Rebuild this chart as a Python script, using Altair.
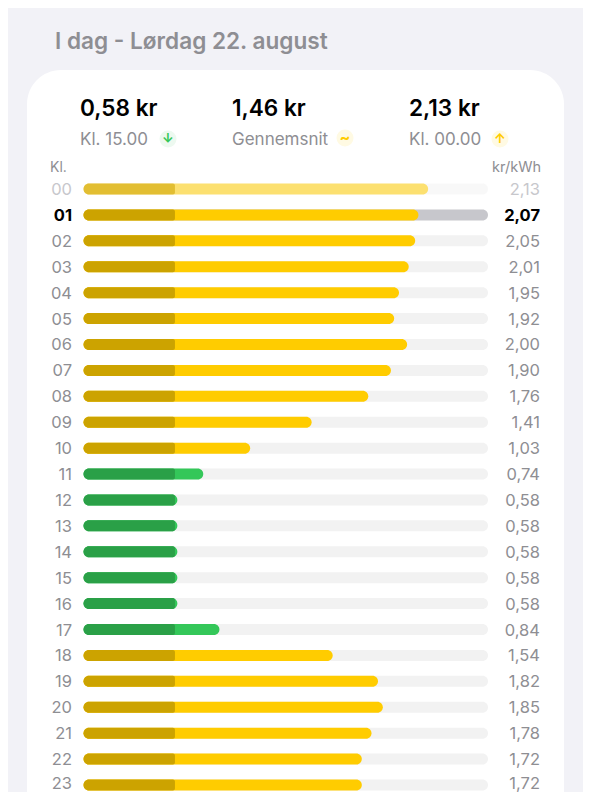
import altair as alt
import pandas as pd

hours = ["00","01","02","03","04","05","06","07","08","09","10","11","12","13","14","15","16","17","18","19","20","21","22","23"]
prices = [2.13,2.07,2.05,2.01,1.95,1.92,2.00,1.90,1.76,1.41,1.03,0.74,0.58,0.58,0.58,0.58,0.58,0.84,1.54,1.82,1.85,1.78,1.72,1.72]
labels = ["2,13","2,07","2,05","2,01","1,95","1,92","2,00","1,90","1,76","1,41","1,03","0,74","0,58","0,58","0,58","0,58","0,58","0,84","1,54","1,82","1,85","1,78","1,72","1,72"]
fees = [0.565] * 24
low_hours = ["11","12","13","14","15","16","17"]
track_end = [2.5] * 24

FONT = "Inter"
GREY = "#8E8E93"
OFF = 8  # page margin

df = pd.DataFrame({"hour": hours, "price": prices, "label": labels, "fee": fees,
                   "end": track_end, "zero": [0] * 24})
df["state"] = ["past" if h == "00" else "now" if h == "01" else "rest" for h in hours]
df["alpha"] = [0.55 if h == "00" else 1 for h in hours]
df["track"] = ["#C7C7CC" if h == "01" else "#F2F2F2" for h in hours]
df["fill"] = ["#34C759" if h in low_hours else "#FFCC00" for h in hours]
df["dark"] = ["#2AA047" if h in low_hours else "#CCA300" for h in hours]
df["tcolor"] = ["#C7C7CC" if s == "past" else "#000000" if s == "now" else GREY for s in df["state"]]

x = alt.X("zero:Q", scale=alt.Scale(domain=[0, 2.5], range=[83.5 - OFF, 488 - OFF]), axis=None)
y = alt.Y("hour:N", scale=alt.Scale(type="point", padding=0, domain=hours, range=[189 - OFF, 785 - OFF]), axis=None)
opacity = alt.Opacity("alpha:Q", scale=None)
one = alt.Data(values=[{"a": 1}])


def label(text, px, py, size, color, weight=400, align="left"):
    return alt.Chart(one).mark_text(text=text, font=FONT, fontSize=size, color=color,
                                    fontWeight=weight, align=align, baseline="middle").encode(
        x=alt.value(px - OFF), y=alt.value(py - OFF))


def badge(glyph, px, py, bg, fg, size=13):
    dot = alt.Chart(one).mark_point(filled=True, size=290, color=bg, opacity=1).encode(
        x=alt.value(px - OFF), y=alt.value(py - OFF))
    return dot + label(glyph, px, py, size, fg, 700, "center")


card = alt.Chart(one).mark_rect(color="white", cornerRadius=34).encode(
    x=alt.value(27 - OFF), x2=alt.value(564 - OFF), y=alt.value(70 - OFF), y2=alt.value(900))

track = alt.Chart(df).mark_bar(size=11, cornerRadius=5.5).encode(
    x=x, x2="end:Q", y=y, opacity=opacity, color=alt.Color("track:N", scale=None))
bar = alt.Chart(df).mark_bar(size=11, cornerRadius=5.5).encode(
    x=x, x2="price:Q", y=y, opacity=opacity, color=alt.Color("fill:N", scale=None))
fee = alt.Chart(df).mark_bar(size=11, cornerRadiusTopLeft=5.5, cornerRadiusBottomLeft=5.5,
                             cornerRadiusTopRight=2, cornerRadiusBottomRight=2).encode(
    x=x, x2="fee:Q", y=y, opacity=opacity, color=alt.Color("dark:N", scale=None))


def row_text(field, px):
    groups = [
        (df[(df["state"] != "now") & (df["hour"] != "23")], 400, 1),
        (df[df["state"] == "now"], 700, 1),
        (df[df["hour"] == "23"], 400, -1.5),  # stays inside the chart's bottom edge
    ]
    return [alt.Chart(part).mark_text(
        font=FONT, fontSize=16.5, align="right", baseline="middle", fontWeight=weight, dy=shift).encode(
        x=alt.value(px - OFF), y=y, text=f"{field}:N", color=alt.Color("tcolor:N", scale=None))
        for part, weight, shift in groups]


chart = alt.layer(
    card,
    label("I dag - Lørdag 22. august", 55, 41.5, 22.6, GREY, 600),
    label("0,58 kr", 80, 108.5, 22.6, "#000000", 600),
    label("1,46 kr", 232, 108.5, 22.6, "#000000", 600),
    label("2,13 kr", 409, 108.5, 22.6, "#000000", 600),
    label("Kl. 15.00", 80, 140, 17, GREY),
    label("Gennemsnit", 232, 140, 17, GREY),
    label("Kl. 00.00", 409, 140, 17, GREY),
    badge("↓", 168, 139, "#EDF9F0", "#34C759"),
    badge("~", 345, 138, "#FFFAE3", "#FFCC00", 16),
    badge("↑", 500, 139, "#FFFAE3", "#FFCC00"),
    label("Kl.", 50, 168, 14, GREY),
    label("kr/kWh", 541, 168, 14.5, GREY, 400, "right"),
    track, bar, fee,
    *row_text("hour", 72),
    *row_text("label", 540),
).properties(width=575, height=784, padding=0, autosize="none", background="#F2F2F7"
).configure_view(stroke=None)

chart.save("out.html", embed_options={"renderer": "svg", "actions": False})
